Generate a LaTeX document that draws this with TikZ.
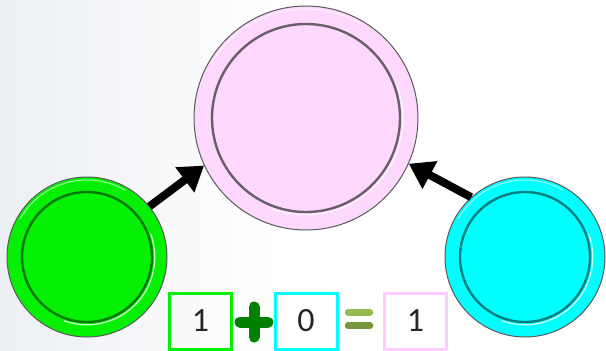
\documentclass[tikz,border=0pt]{standalone}
\usepackage{fontspec}
\setmainfont{Carlito}
\usetikzlibrary{arrows.meta,calc}
\definecolor{bgc}{RGB}{236,239,243}
\definecolor{pinkc}{RGB}{255,216,255}
\definecolor{greenc}{RGB}{6,240,6}
\definecolor{cyanc}{RGB}{0,255,255}
\definecolor{pinkbox}{RGB}{255,204,255}
\definecolor{greenbox}{RGB}{0,240,0}
\definecolor{plusc}{RGB}{0,128,0}
\definecolor{eqc}{RGB}{150,186,80}
\definecolor{txtc}{RGB}{38,38,38}
\tikzset{
  disc/.style={circle, inner sep=0pt, draw=black!65, line width=1pt},
  numbox/.style={rectangle, line width=3pt, minimum width=62pt, minimum height=56pt, inner sep=0pt,
    text=txtc, font=\fontsize{34}{34}\selectfont},
  arr/.style={line width=8pt, -{Triangle[length=24pt,width=30pt]}, black},
}
\newcommand\discring[4]{%
  \draw[#3!45!black, line width=2.4pt, opacity=0.9] (#1.center) circle[radius=#2];
  \draw[white, line width=1.3pt, opacity=0.75] ($(#1.center)+(-110:#2+2.8pt)$) arc[start angle=-110, end angle=20, radius=#2+2.8pt];
  \draw[white, line width=1pt, opacity=0.6] ($(#1.center)+(60:#4-3pt)$) arc[start angle=60, end angle=150, radius=#4-3pt];
}
\begin{document}
\begin{tikzpicture}[x=1pt,y=-1pt]
\useasboundingbox (0,0) rectangle (606,351);
\fill[white] (0,0) rectangle (606,351);
\shade[left color=bgc, right color=white] (0,0) rectangle (280,351);
% discs
\node[disc, fill=pinkc, minimum size=224pt] (p) at (306,118) {};
\node[disc, fill=greenc, minimum size=160pt] (g) at (87,257) {};
\node[disc, fill=cyanc, minimum size=160pt] (c) at (525,257) {};
\discring{p}{94pt}{pinkc!60!gray}{112pt}
\discring{g}{65pt}{greenc}{80pt}
\discring{c}{65pt}{cyanc}{80pt}
% arrows
\draw[arr] (g.39) -- (p.-155);
\draw[arr] (c.132) -- (p.-24);
% equation
\node[numbox, draw=greenbox] (b1) at (200.5,321) {1};
\node[numbox, draw=cyanc] (b2) at (306,321) {0};
\node[numbox, draw=pinkbox] (b3) at (415.5,321) {1};
\coordinate (pl) at (254,322);
\draw[plusc, line width=11pt, line cap=round] ($(pl)+(-14,0)$) -- ($(pl)+(14,0)$);
\draw[plusc, line width=11pt, line cap=round] ($(pl)+(0,-15)$) -- ($(pl)+(0,15)$);
\coordinate (eq) at (359,319);
\draw[eqc, line width=6.5pt, line cap=round] ($(eq)+(-11,-6.5)$) -- ($(eq)+(11,-6.5)$);
\draw[eqc!80!black, line width=6.5pt, line cap=round] ($(eq)+(-11,6.5)$) -- ($(eq)+(11,6.5)$);
\end{tikzpicture}
\end{document}
